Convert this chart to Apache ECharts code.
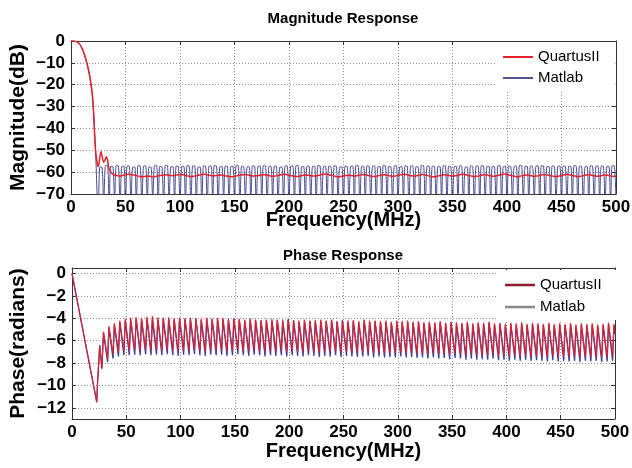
<!DOCTYPE html>
<html>
<head>
<meta charset="utf-8">
<script src="https://cdn.jsdelivr.net/npm/echarts@6/dist/echarts.min.js"></script>
<style>
  html, body { margin: 0; padding: 0; background: #fff; }
  #main { width: 632px; height: 468px; }
</style>
</head>
<body>
<div id="main"></div>
<script>
// Matlab magnitude: passband, then null / two shoulder points per 5 MHz ripple
var matlabMagFreq = [
  0,2.5,5,7.5,10,12.5,15,17.5,20,22.5,
  25,26.5,28.5,30,31.5,33.5,35,36.5,38.5,40,41.5,43.5,45,46.5,48.5,
  50,51.5,53.5,55,56.5,58.5,60,61.5,63.5,65,66.5,68.5,70,71.5,73.5,
  75,76.5,78.5,80,81.5,83.5,85,86.5,88.5,90,91.5,93.5,95,96.5,98.5,
  100,101.5,103.5,105,106.5,108.5,110,111.5,113.5,115,116.5,118.5,120,121.5,123.5,
  125,126.5,128.5,130,131.5,133.5,135,136.5,138.5,140,141.5,143.5,145,146.5,148.5,
  150,151.5,153.5,155,156.5,158.5,160,161.5,163.5,165,166.5,168.5,170,171.5,173.5,
  175,176.5,178.5,180,181.5,183.5,185,186.5,188.5,190,191.5,193.5,195,196.5,198.5,
  200,201.5,203.5,205,206.5,208.5,210,211.5,213.5,215,216.5,218.5,220,221.5,223.5,
  225,226.5,228.5,230,231.5,233.5,235,236.5,238.5,240,241.5,243.5,245,246.5,248.5,
  250,251.5,253.5,255,256.5,258.5,260,261.5,263.5,265,266.5,268.5,270,271.5,273.5,
  275,276.5,278.5,280,281.5,283.5,285,286.5,288.5,290,291.5,293.5,295,296.5,298.5,
  300,301.5,303.5,305,306.5,308.5,310,311.5,313.5,315,316.5,318.5,320,321.5,323.5,
  325,326.5,328.5,330,331.5,333.5,335,336.5,338.5,340,341.5,343.5,345,346.5,348.5,
  350,351.5,353.5,355,356.5,358.5,360,361.5,363.5,365,366.5,368.5,370,371.5,373.5,
  375,376.5,378.5,380,381.5,383.5,385,386.5,388.5,390,391.5,393.5,395,396.5,398.5,
  400,401.5,403.5,405,406.5,408.5,410,411.5,413.5,415,416.5,418.5,420,421.5,423.5,
  425,426.5,428.5,430,431.5,433.5,435,436.5,438.5,440,441.5,443.5,445,446.5,448.5,
  450,451.5,453.5,455,456.5,458.5,460,461.5,463.5,465,466.5,468.5,470,471.5,473.5,
  475,476.5,478.5,480,481.5,483.5,485,486.5,488.5,490,491.5,493.5,495,496.5,498.5,
  500
];

var matlabMag = [
  0,0,-0.3,-1.2,-3.2,-6.5,-11,-17,-27,-50,
  -80,-57.6,-57.8,-75.5,-57.1,-56.9,-77,-57.4,-57.6,-75,-56.9,-57.1,-76.5,-57.5,-57.3,
  -77.5,-57.2,-57.4,-75,-57.8,-57.6,-76,-57.0,-57.2,-77,-57.3,-57.1,-75.5,-57.6,-57.8,
  -74,-57.1,-56.9,-76.5,-57.4,-57.6,-77.5,-56.9,-57.1,-75,-57.7,-57.5,-76,-57.2,-57.4,
  -77,-57.5,-57.3,-75.5,-57.0,-57.2,-76.5,-57.3,-57.1,-75,-57.8,-57.6,-77.5,-57.1,-57.3,
  -76,-57.4,-57.2,-74,-57.0,-57.2,-77,-57.6,-57.4,-75.5,-57.2,-57.4,-76.5,-57.5,-57.3,
  -75,-56.9,-57.1,-77.5,-57.3,-57.5,-76,-57.7,-57.5,-75,-57.1,-57.3,-77,-57.4,-57.2,
  -75.5,-57.0,-57.2,-76.5,-57.5,-57.3,-74,-57.2,-57.4,-76,-57.8,-57.6,-77.5,-57.1,-57.3,
  -75,-57.3,-57.1,-76.5,-56.9,-57.1,-75.5,-57.6,-57.4,-77,-57.2,-57.4,-75,-57.4,-57.2,
  -76,-57.0,-57.2,-77.5,-57.5,-57.3,-75.5,-57.3,-57.5,-76.5,-57.1,-57.3,-74,-57.7,-57.5,
  -77,-57.2,-57.4,-76,-57.4,-57.2,-75,-56.9,-57.1,-76.5,-57.5,-57.3,-77.5,-57.1,-57.3,
  -75.5,-57.3,-57.1,-76,-57.6,-57.4,-75,-57.0,-57.2,-77,-57.4,-57.6,-75.5,-57.2,-57.0,
  -76.5,-57.7,-57.5,-74,-57.1,-57.3,-77.5,-57.3,-57.1,-76,-57.5,-57.7,-75,-56.9,-57.1,
  -77,-57.4,-57.2,-75.5,-57.2,-57.4,-76.5,-57.6,-57.4,-75,-57.0,-57.2,-76,-57.3,-57.5,
  -77.5,-57.5,-57.3,-75.5,-57.1,-57.3,-76.5,-57.8,-57.6,-74,-57.2,-57.4,-77,-57.4,-57.2,
  -76,-57.0,-57.2,-75,-57.5,-57.3,-76.5,-57.3,-57.5,-77.5,-57.1,-56.9,-75.5,-57.6,-57.4,
  -76,-57.2,-57.4,-75,-57.4,-57.2,-77,-56.9,-57.1,-75.5,-57.5,-57.3,-76.5,-57.2,-57.4,
  -74,-57.3,-57.1,-77.5,-57.0,-57.2,-76,-57.6,-57.4,-75,-57.1,-57.3,-77,-57.4,-57.2,
  -75.5,-57.2,-57.4,-76.5,-57.5,-57.3,-75,-57.0,-57.2,-76,-57.3,-57.5,-77.5,-57.6,-57.4,
  -75.5,-57.1,-57.3,-76.5,-57.4,-57.2,-74,-57.2,-57.4,-77,-57.5,-57.3,-76,-57.0,-57.2,
  -75
];

// QuartusII magnitude, sampled every 2.5 MHz
var quartusMagFreq = [
  0,2.5,5,7.5,10,12.5,15,17.5,20,22.5,
  25,27.5,30,32.5,35,37.5,40,42.5,45,47.5,
  50,52.5,55,57.5,60,62.5,65,67.5,70,72.5,
  75,77.5,80,82.5,85,87.5,90,92.5,95,97.5,
  100,102.5,105,107.5,110,112.5,115,117.5,120,122.5,
  125,127.5,130,132.5,135,137.5,140,142.5,145,147.5,
  150,152.5,155,157.5,160,162.5,165,167.5,170,172.5,
  175,177.5,180,182.5,185,187.5,190,192.5,195,197.5,
  200,202.5,205,207.5,210,212.5,215,217.5,220,222.5,
  225,227.5,230,232.5,235,237.5,240,242.5,245,247.5,
  250,252.5,255,257.5,260,262.5,265,267.5,270,272.5,
  275,277.5,280,282.5,285,287.5,290,292.5,295,297.5,
  300,302.5,305,307.5,310,312.5,315,317.5,320,322.5,
  325,327.5,330,332.5,335,337.5,340,342.5,345,347.5,
  350,352.5,355,357.5,360,362.5,365,367.5,370,372.5,
  375,377.5,380,382.5,385,387.5,390,392.5,395,397.5,
  400,402.5,405,407.5,410,412.5,415,417.5,420,422.5,
  425,427.5,430,432.5,435,437.5,440,442.5,445,447.5,
  450,452.5,455,457.5,460,462.5,465,467.5,470,472.5,
  475,477.5,480,482.5,485,487.5,490,492.5,495,497.5,
  500
];

var quartusMag = [
  0,0,-0.3,-1.2,-3.2,-6.5,-11,-17,-27,-50,-57.5,
  -50.5,-55.5,-53,-58.5,-60.5,-61.3,
  -61.6,-61.8,-61.5,-61.2,-61.0,-61.1,-61.3,-61.6,-61.9,-62.1,
  -62.0,-61.8,-61.9,-62.2,-62.0,-61.7,-61.5,-61.3,-61.2,-61.4,
  -61.6,-61.5,-61.3,-61.1,-61.2,-61.5,-61.8,-62.0,-61.9,-61.6,
  -61.3,-61.1,-61.0,-61.2,-61.5,-61.7,-61.6,-61.4,-61.3,-61.5,
  -61.8,-62.0,-62.1,-61.9,-61.6,-61.4,-61.2,-61.1,-61.3,-61.6,
  -61.8,-61.7,-61.5,-61.3,-61.2,-61.4,-61.7,-61.9,-61.8,-61.5,
  -61.2,-61.0,-61.1,-61.4,-61.7,-61.9,-62.0,-61.8,-61.5,-61.3,
  -61.4,-61.6,-61.8,-61.7,-61.4,-61.1,-60.9,-61.0,-61.3,-61.6,
  -61.9,-62.1,-62.0,-61.7,-61.5,-61.4,-61.6,-61.8,-61.6,-61.3,
  -61.1,-61.2,-61.5,-61.8,-62.0,-61.9,-61.6,-61.3,-61.2,-61.4,
  -61.7,-61.9,-61.8,-61.5,-61.2,-61.0,-61.1,-61.4,-61.7,-61.8,
  -61.6,-61.3,-61.1,-61.3,-61.6,-61.9,-62.1,-62.0,-61.7,-61.4,
  -61.2,-61.3,-61.6,-61.8,-61.7,-61.4,-61.1,-61.0,-61.2,-61.5,
  -61.8,-62.0,-61.9,-61.6,-61.3,-61.2,-61.4,-61.7,-61.9,-61.7,
  -61.4,-61.1,-60.9,-61.1,-61.4,-61.7,-62.0,-62.1,-61.8,-61.5,
  -61.3,-61.4,-61.7,-61.9,-61.8,-61.5,-61.2,-61.1,-61.3,-61.6,
  -61.9,-62.0,-61.8,-61.5,-61.2,-61.0,-61.2,-61.5,-61.8,-62.0,
  -61.9,-61.6,-61.3,-61.2,-61.4,-61.7,-61.9,-61.8,-61.5,-61.3,
  -61.4,-61.7,-62.0,-61.8
];

// phase response: peaks and troughs of the sawtooth
var phaseFreq = [
  0,22.8,23.5,25.5,27.5,
  29,32.8,34,37.8,39,42.8,44,47.8,49,52.8,
  54,57.8,59,62.8,64,67.8,69,72.8,74,77.8,
  79,82.8,84,87.8,89,92.8,94,97.8,99,102.8,
  104,107.8,109,112.8,114,117.8,119,122.8,124,127.8,
  129,132.8,134,137.8,139,142.8,144,147.8,149,152.8,
  154,157.8,159,162.8,164,167.8,169,172.8,174,177.8,
  179,182.8,184,187.8,189,192.8,194,197.8,199,202.8,
  204,207.8,209,212.8,214,217.8,219,222.8,224,227.8,
  229,232.8,234,237.8,239,242.8,244,247.8,249,252.8,
  254,257.8,259,262.8,264,267.8,269,272.8,274,277.8,
  279,282.8,284,287.8,289,292.8,294,297.8,299,302.8,
  304,307.8,309,312.8,314,317.8,319,322.8,324,327.8,
  329,332.8,334,337.8,339,342.8,344,347.8,349,352.8,
  354,357.8,359,362.8,364,367.8,369,372.8,374,377.8,
  379,382.8,384,387.8,389,392.8,394,397.8,399,402.8,
  404,407.8,409,412.8,414,417.8,419,422.8,424,427.8,
  429,432.8,434,437.8,439,442.8,444,447.8,449,452.8,
  454,457.8,459,462.8,464,467.8,469,472.8,474,477.8,
  479,482.8,484,487.8,489,492.8,494,497.8,
  499,500
];

var matlabPhase = [
  0,-11.5,-9.8,-6.4,-8.5,
  -5.3,-7.9,-4.85,-7.6,-4.55,-7.4,-4.35,-7.3,-4.2,-7.3,
  -4.1,-7.25,-4.05,-7.3,-4.1,-7.2,-4.0,-7.3,-4.05,-7.25,
  -4.1,-7.3,-4.0,-7.2,-4.05,-7.3,-4.1,-7.35,-4.0,-7.25,
  -4.05,-7.3,-4.1,-7.2,-4.0,-7.3,-4.15,-7.35,-4.05,-7.25,
  -4.1,-7.3,-4.0,-7.25,-4.1,-7.35,-4.15,-7.3,-4.05,-7.2,
  -4.1,-7.3,-4.2,-7.35,-4.1,-7.25,-4.15,-7.3,-4.2,-7.4,
  -4.15,-7.3,-4.2,-7.35,-4.1,-7.3,-4.25,-7.4,-4.15,-7.3,
  -4.2,-7.35,-4.3,-7.4,-4.2,-7.3,-4.25,-7.35,-4.3,-7.45,
  -4.2,-7.35,-4.25,-7.4,-4.15,-7.3,-4.3,-7.45,-4.2,-7.35,
  -4.3,-7.4,-4.25,-7.45,-4.35,-7.4,-4.2,-7.35,-4.3,-7.5,
  -4.25,-7.4,-4.35,-7.5,-4.3,-7.45,-4.4,-7.5,-4.3,-7.4,
  -4.35,-7.5,-4.3,-7.45,-4.4,-7.55,-4.35,-7.5,-4.45,-7.6,
  -4.4,-7.5,-4.45,-7.6,-4.35,-7.55,-4.5,-7.65,-4.4,-7.55,
  -4.45,-7.6,-4.5,-7.7,-4.4,-7.6,-4.55,-7.7,-4.45,-7.65,
  -4.5,-7.7,-4.4,-7.6,-4.55,-7.75,-4.5,-7.7,-4.6,-7.8,
  -4.5,-7.7,-4.55,-7.8,-4.45,-7.7,-4.6,-7.8,-4.5,-7.75,
  -4.55,-7.8,-4.6,-7.85,-4.5,-7.75,-4.6,-7.85,-4.55,-7.8,
  -4.6,-7.85,-4.5,-7.8,-4.65,-7.9,-4.55,-7.8,-4.6,-7.85,
  -4.55,-7.8,-4.65,-7.9,-4.6,-7.85,-4.5,-7.8,
  -4.6,-5.4
];

var quartusPhase = [
  0,-11.5,-9.8,-6.4,-8.5,
  -5.2,-7.6,-4.7,-7.2,-4.45,-7.0,-4.2,-6.9,-4.05,-6.9,
  -3.95,-6.85,-3.9,-6.9,-3.95,-6.8,-3.85,-6.9,-3.8,-6.85,
  -3.9,-6.9,-3.95,-6.8,-3.9,-6.9,-4.0,-6.95,-3.95,-6.85,
  -4.0,-6.9,-3.95,-6.8,-4.0,-6.9,-4.05,-6.95,-3.95,-6.85,
  -4.0,-6.9,-4.05,-6.85,-3.95,-6.95,-4.05,-6.9,-4.0,-6.8,
  -4.05,-6.9,-4.1,-6.95,-4.0,-6.85,-4.1,-6.9,-4.15,-7.0,
  -4.1,-6.9,-4.05,-6.95,-4.15,-6.9,-4.1,-7.0,-4.05,-6.9,
  -4.15,-6.95,-4.2,-7.0,-4.1,-6.9,-4.2,-6.95,-4.15,-7.05,
  -4.1,-6.95,-4.2,-7.0,-4.1,-6.9,-4.25,-7.05,-4.15,-6.95,
  -4.2,-7.0,-4.15,-7.05,-4.25,-7.0,-4.1,-6.95,-4.2,-7.1,
  -4.2,-7.0,-4.25,-7.1,-4.2,-7.05,-4.3,-7.1,-4.2,-7.0,
  -4.25,-7.1,-4.2,-7.05,-4.3,-7.15,-4.25,-7.1,-4.35,-7.2,
  -4.3,-7.1,-4.35,-7.2,-4.25,-7.15,-4.4,-7.25,-4.3,-7.15,
  -4.35,-7.2,-4.4,-7.3,-4.3,-7.2,-4.45,-7.3,-4.35,-7.25,
  -4.4,-7.3,-4.3,-7.2,-4.45,-7.35,-4.4,-7.3,-4.5,-7.4,
  -4.4,-7.3,-4.45,-7.4,-4.35,-7.3,-4.5,-7.4,-4.4,-7.35,
  -4.45,-7.4,-4.5,-7.45,-4.4,-7.35,-4.5,-7.45,-4.45,-7.4,
  -4.5,-7.45,-4.4,-7.4,-4.55,-7.5,-4.45,-7.4,-4.5,-7.45,
  -4.45,-7.4,-4.55,-7.5,-4.5,-7.45,-4.4,-7.4,
  -4.5,-5.3
];

var phaseTicks = [0, -2, -4, -6, -8, -10, -12];

function pairs(xs, ys) {
  return xs.map(function (x, i) { return [x, ys[i]]; });
}

var FONT = '"Liberation Sans", Arial, sans-serif';
var gridLine = { show: true, lineStyle: { color: '#8c8c8c', type: [1, 2], width: 1 } };
var frame = { show: true, onZero: false, lineStyle: { color: '#333', width: 1 } };
var tick = { show: true, inside: true, length: 4, lineStyle: { color: '#333' } };
var tickLabel = {
  fontFamily: FONT, fontWeight: 'bold', fontSize: 17, color: '#000',
  formatter: function (v) { return String(v).replace('-', '\u2212'); }
};
var xNameStyle = { fontFamily: FONT, fontWeight: 'bold', fontSize: 20, color: '#000' };
var yNameStyle = { fontFamily: FONT, fontWeight: 'bold', fontSize: 21, color: '#000' };
var titleStyle = { fontFamily: FONT, fontWeight: 'bold', fontSize: 15, color: '#000' };
var legendText = { fontFamily: FONT, fontSize: 15, color: '#000', lineHeight: 16 };

function freqAxis(grid, top, nameGap) {
  var ax = {
    gridIndex: grid, type: 'value', min: 0, max: 500, interval: 50,
    position: top ? 'top' : 'bottom',
    axisLine: frame, axisTick: tick
  };
  if (top) {
    ax.axisLabel = { show: false };
    ax.splitLine = { show: false };
  } else {
    ax.axisLabel = Object.assign({ margin: 5 }, tickLabel);
    ax.splitLine = gridLine;
    ax.name = 'Frequency(MHz)';
    ax.nameLocation = 'middle';
    ax.nameGap = nameGap;
    ax.nameMoveOverlap = false;
    ax.nameTextStyle = xNameStyle;
  }
  return ax;
}

var chart = echarts.init(document.getElementById('main'));

chart.setOption({
  animation: false,
  backgroundColor: '#fff',
  title: [
    { text: 'Magnitude Response', left: 343, top: 11, padding: 0, textAlign: 'center', textStyle: titleStyle },
    { text: 'Phase Response', left: 343, top: 248, padding: 0, textAlign: 'center', textStyle: titleStyle }
  ],
  legend: [
    {
      left: 495, top: 42, orient: 'vertical', icon: 'rect',
      itemWidth: 30, itemHeight: 2, itemGap: 5,
      padding: [7, 16, 5, 8], backgroundColor: '#fff', textStyle: legendText,
      data: [
        { name: 'QuartusII', itemStyle: { color: '#e3202b' } },
        { name: 'Matlab', itemStyle: { color: '#55558f' } }
      ]
    },
    {
      left: 497, top: 270, orient: 'vertical', icon: 'rect',
      itemWidth: 30, itemHeight: 2.5, itemGap: 6,
      padding: [7, 16, 5, 8], backgroundColor: '#fff', textStyle: legendText,
      data: [
        { name: 'QuartusII', itemStyle: { color: '#8e1b2e' } },
        { name: 'Matlab', itemStyle: { color: '#8a8a8a' } }
      ]
    }
  ],
  grid: [
    { left: 71, top: 41, width: 545, height: 153, outerBoundsMode: 'none', containLabel: false },
    { left: 72, top: 268, width: 543, height: 151, outerBoundsMode: 'none', containLabel: false }
  ],
  xAxis: [
    freqAxis(0, false, 16),
    freqAxis(0, true),
    freqAxis(1, false, 22),
    freqAxis(1, true)
  ],
  yAxis: [
    {
      gridIndex: 0, type: 'value', min: -70, max: 0, interval: 10, position: 'left',
      axisLine: frame, axisTick: tick, splitLine: gridLine,
      axisLabel: Object.assign({ margin: 6 }, tickLabel),
      name: 'Magnitude(dB)', nameLocation: 'middle', nameGap: 42, nameMoveOverlap: false,
      nameTextStyle: yNameStyle
    },
    {
      gridIndex: 0, type: 'value', min: -70, max: 0, interval: 10, position: 'right',
      axisLine: frame, axisTick: tick, splitLine: { show: false }, axisLabel: { show: false }
    },
    {
      gridIndex: 1, type: 'value', min: -13, max: 0.5, position: 'left',
      axisLine: frame, splitLine: gridLine,
      axisTick: Object.assign({ customValues: phaseTicks }, tick),
      axisLabel: Object.assign({ margin: 6, customValues: phaseTicks }, tickLabel),
      name: 'Phase(radians)', nameLocation: 'middle', nameGap: 43, nameMoveOverlap: false,
      nameTextStyle: yNameStyle
    },
    {
      gridIndex: 1, type: 'value', min: -13, max: 0.5, position: 'right',
      axisLine: frame, splitLine: { show: false }, axisLabel: { show: false },
      axisTick: Object.assign({ customValues: phaseTicks }, tick)
    }
  ],
  series: [
    {
      name: 'Matlab', type: 'line', xAxisIndex: 0, yAxisIndex: 0, symbol: 'none',
      smooth: 0.3, data: pairs(matlabMagFreq, matlabMag),
      lineStyle: { color: '#4b4b8f', width: 1 }, itemStyle: { color: '#4b4b8f' }
    },
    {
      name: 'QuartusII', type: 'line', xAxisIndex: 0, yAxisIndex: 0, symbol: 'none',
      smooth: 0.3, data: pairs(quartusMagFreq, quartusMag),
      lineStyle: { color: '#e3202b', width: 1.5 }, itemStyle: { color: '#e3202b' }
    },
    {
      name: 'Matlab', type: 'line', xAxisIndex: 2, yAxisIndex: 2, symbol: 'none',
      data: pairs(phaseFreq, matlabPhase),
      lineStyle: { color: '#3c3c9c', width: 1.3 }, itemStyle: { color: '#3c3c9c' }
    },
    {
      name: 'QuartusII', type: 'line', xAxisIndex: 2, yAxisIndex: 2, symbol: 'none',
      data: pairs(phaseFreq, quartusPhase),
      lineStyle: { color: '#e0202e', width: 1.1 }, itemStyle: { color: '#e0202e' }
    }
  ]
});
</script>
</body>
</html>
